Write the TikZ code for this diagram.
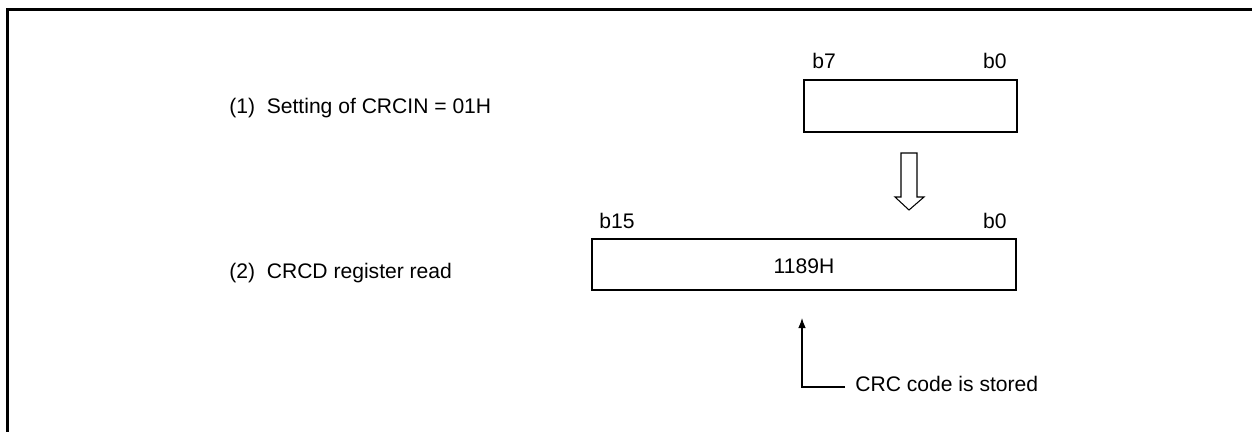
\documentclass[tikz,border=0pt]{standalone}
\usepackage{fontspec}
\setmainfont{Liberation Sans}
\usepackage{tikz}
\usetikzlibrary{positioning, arrows.meta}

\begin{document}
\begin{tikzpicture}[x=0.02cm, y=-0.02cm, >=Latex,
        every node/.style={font=\fontsize{12}{14}\selectfont, inner sep=0pt},
        reg/.style={draw, line width=1.15pt},
        bitno/.style={anchor=base}]
    \useasboundingbox (0,0) rectangle (1252,432);
    % frame
    \draw[line width=1.7pt] (7.5,432) -- (7.5,9.5) -- (1252,9.5);

    % step texts
    \node[anchor=base west] (setin) at (229,114) {(1)~~Setting of CRCIN = 01H};
    \node[anchor=base west] (rdout) at (229,279) {(2)~~CRCD register read};

    % registers
    \node[reg, minimum width=4.26cm, minimum height=1.04cm, anchor=north west] (crcin) at (803,79) {};
    \node[reg, minimum width=8.48cm, minimum height=1.02cm, anchor=north west] (crcd) at (591,238) {};
    \node[anchor=base] (val) at ([yshift=-0.72cm]crcd.north) {1189H};

    % bit numbers
    \node[bitno, anchor=base west] (in7) at ([shift={(9,-10)}]crcin.north west) {b7};
    \node[bitno, anchor=base east] (in0) at ([shift={(-11,-10)}]crcin.north east) {b0};
    \node[bitno, anchor=base west] (d15) at ([shift={(8,-9)}]crcd.north west) {b15};
    \node[bitno, anchor=base east] (d0) at ([shift={(-10,-9)}]crcd.north east) {b0};

    % transfer arrow
    \coordinate (xfer) at (909,153);
    \draw[line width=0.6pt] (xfer) ++(-8,0) -- ++(16,0) -- ++(0,44) -- ++(7,0)
        -- (909,210) -- ++(-14,-13) -- ++(6,0) -- cycle;

    % note
    \node[anchor=base west] (stored) at (855,392) {CRC code is stored};
    \coordinate (tip) at (802,318);
    \draw[->, line width=0.6pt] ([shift={(-10,-5)}]stored.base west) -| (tip);
\end{tikzpicture}
\end{document}
